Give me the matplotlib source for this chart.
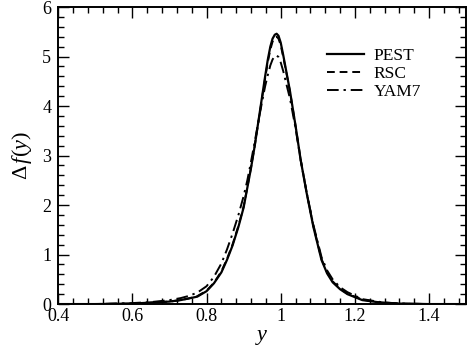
import matplotlib
matplotlib.use("Agg")
import matplotlib.pyplot as plt
from matplotlib.ticker import MultipleLocator

plt.rcParams['font.family'] = 'serif'
plt.rcParams['font.serif'] = ['Liberation Serif', 'DejaVu Serif']
plt.rcParams['mathtext.fontset'] = 'custom'
plt.rcParams['mathtext.rm'] = 'Liberation Serif'
plt.rcParams['mathtext.it'] = 'Liberation Serif:italic'

y_grid = [0.40, 0.50, 0.60, 0.65, 0.70, 0.73, 0.75, 0.775, 0.80, 0.82, 0.84, 0.855,
          0.87, 0.886, 0.90, 0.91, 0.92, 0.93, 0.945, 0.958, 0.965, 0.972, 0.978,
          0.984, 0.989, 0.994, 1.000, 1.007, 1.015, 1.025, 1.04, 1.054, 1.07,
          1.088, 1.11, 1.125, 1.14, 1.16, 1.18, 1.22, 1.27, 1.32, 1.40, 1.50]

pest = [0.0, 0.0, 0.01, 0.03, 0.05, 0.08, 0.11, 0.15, 0.26, 0.42, 0.64, 0.89,
        1.18, 1.56, 1.95, 2.35, 2.75, 3.20, 3.95, 4.60, 4.93, 5.20, 5.36,
        5.44, 5.46, 5.42, 5.28, 5.02, 4.70, 4.30, 3.60, 2.90, 2.24,
        1.56, 0.89, 0.62, 0.44, 0.30, 0.20, 0.08, 0.03, 0.01, 0.0, 0.0]

rsc = [0.0, 0.0, 0.01, 0.03, 0.05, 0.08, 0.11, 0.16, 0.27, 0.43, 0.66, 0.91,
       1.20, 1.58, 1.97, 2.36, 2.76, 3.20, 3.93, 4.56, 4.88, 5.14, 5.30,
       5.38, 5.40, 5.36, 5.23, 4.98, 4.68, 4.29, 3.60, 2.91, 2.25,
       1.58, 0.91, 0.64, 0.46, 0.31, 0.21, 0.09, 0.03, 0.01, 0.0, 0.0]

yam7 = [0.0, 0.0, 0.02, 0.04, 0.08, 0.12, 0.16, 0.23, 0.36, 0.55, 0.82, 1.10,
        1.42, 1.80, 2.18, 2.50, 2.88, 3.28, 3.90, 4.40, 4.62, 4.82, 4.94,
        5.01, 5.02, 4.99, 4.88, 4.70, 4.45, 4.15, 3.55, 2.90, 2.25,
        1.60, 0.95, 0.68, 0.50, 0.34, 0.24, 0.10, 0.04, 0.01, 0.0, 0.0]

series_labels = ["PEST", "RSC", "YAM7"]

fig = plt.figure(figsize=(4.69, 3.59), dpi=100)
ax = fig.add_axes([0.124, 0.153, 0.870, 0.8275])

ax.plot(y_grid, pest, color='black', lw=1.6, ls='-', label=series_labels[0])
ax.plot(y_grid, rsc, color='black', lw=1.4, ls=(0, (4, 2.5)), label=series_labels[1])
ax.plot(y_grid, yam7, color='black', lw=1.4, ls=(0, (6, 2.5, 1.2, 2.5)), label=series_labels[2])

ax.set_xlim(0.4, 1.5)
ax.set_ylim(0, 6)
ax.xaxis.set_minor_locator(MultipleLocator(0.04))
ax.yaxis.set_minor_locator(MultipleLocator(0.2))
ax.set_xticks([0.4, 0.6, 0.8, 1.0, 1.2, 1.4])
ax.set_xticklabels(["0.4", "0.6", "0.8", "1", "1.2", "1.4"])
ax.set_yticks([0, 1, 2, 3, 4, 5, 6])
ax.set_yticklabels(["0", "1", "2", "3", "4", "5", "6"])

ax.tick_params(which='both', direction='in', top=True, right=True, labelsize=13, width=1.0)
ax.tick_params(which='major', length=8)
ax.tick_params(which='minor', length=4.5)
ax.tick_params(axis='x', pad=3)
ax.tick_params(axis='y', pad=5)
for s in ax.spines.values():
    s.set_linewidth(1.4)

ax.set_xlabel(r"$y$", fontsize=16, labelpad=2)
ax.set_ylabel(r"$\Delta\,f(y)$", fontsize=16, labelpad=6)

ax.legend(loc='upper left', bbox_to_anchor=(0.642, 0.885), frameon=False,
          fontsize=12.5, handlelength=2.1, handletextpad=0.6, labelspacing=0.1,
          borderaxespad=0)

fig.savefig("out.png", dpi=100)
